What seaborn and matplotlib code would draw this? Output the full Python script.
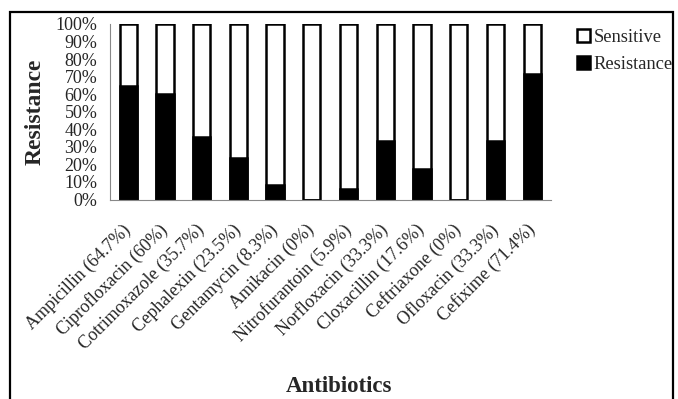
import pandas as pd
import matplotlib.pyplot as plt
import seaborn as sns
from matplotlib.patches import Patch, Rectangle

antibiotics = ['Ampicillin (64.7%)', 'Ciprofloxacin (60%)', 'Cotrimoxazole (35.7%)',
               'Cephalexin (23.5%)', 'Gentamycin (8.3%)', 'Amikacin (0%)',
               'Nitrofurantoin (5.9%)', 'Norfloxacin (33.3%)', 'Cloxacillin (17.6%)',
               'Ceftriaxone (0%)', 'Ofloxacin (33.3%)', 'Cefixime (71.4%)']
resistance = [64.7, 60, 35.7, 23.5, 8.3, 0, 5.9, 33.3, 17.6, 0, 33.3, 71.4]
sensitive = [100 - r for r in resistance]

df = pd.DataFrame({'antibiotic': antibiotics,
                   'resistance': resistance,
                   'total': [r + s for r, s in zip(resistance, sensitive)]})

sns.set_style('white')
plt.rcParams['font.family'] = ['Liberation Serif', 'DejaVu Serif']

fig = plt.figure(figsize=(6.78, 3.99), dpi=100)
ax = fig.add_axes([0.162, 0.5, 0.65, 0.44])

# white (sensitive) part first, then black resistance on top of it
sns.barplot(data=df, x='antibiotic', y='total', color='white', edgecolor='black',
            linewidth=1.8, width=0.47, saturation=1, ax=ax)
sns.barplot(data=df, x='antibiotic', y='resistance', color='black', edgecolor='black',
            linewidth=1.8, width=0.47, saturation=1, ax=ax)

ax.set_ylim(0, 100)
ax.set_xlim(-0.5, len(antibiotics) - 0.5)
ax.set_yticks(range(0, 101, 10))
ax.set_yticklabels(['{}%'.format(v) for v in range(0, 101, 10)], fontsize=13)
ax.set_xticks(range(len(antibiotics)))
ax.set_xticklabels(antibiotics, rotation=45, ha='right', va='center',
                   rotation_mode='anchor', fontsize=13)
ax.set_xticks([i - 0.5 for i in range(len(antibiotics) + 1)], minor=True)
ax.tick_params(axis='x', which='major', length=0, pad=20)
ax.tick_params(axis='x', which='minor', length=5, color='#888888', width=0.8, direction='out')
ax.tick_params(axis='y', length=5, color='#888888', width=0.8, direction='out', pad=4)

for s in ['top', 'right']:
    ax.spines[s].set_visible(False)
for s in ['left', 'bottom']:
    ax.spines[s].set_color('#888888')
    ax.spines[s].set_linewidth(0.8)

ax.set_ylabel('Resistance', fontsize=17, fontweight='bold', labelpad=7)
ax.set_xlabel('')
fig.text(0.5, 0.005, 'Antibiotics', fontsize=16.5, fontweight='bold', ha='center', va='bottom')

handles = [Patch(facecolor='white', edgecolor='black', linewidth=1.8, label='Sensitive'),
           Patch(facecolor='black', edgecolor='black', linewidth=1.8, label='Resistance')]
fig.legend(handles=handles, loc='upper left', bbox_to_anchor=(0.84, 0.945), frameon=False,
           fontsize=13.3, handlelength=0.7, handleheight=0.7, handletextpad=0.2,
           labelspacing=0.5, borderaxespad=0)

fig.patches.append(Rectangle((0.015, -0.1), 0.978, 1.07, transform=fig.transFigure,
                             fill=False, edgecolor='black', linewidth=1.6))

fig.savefig('out.png', dpi=100)
